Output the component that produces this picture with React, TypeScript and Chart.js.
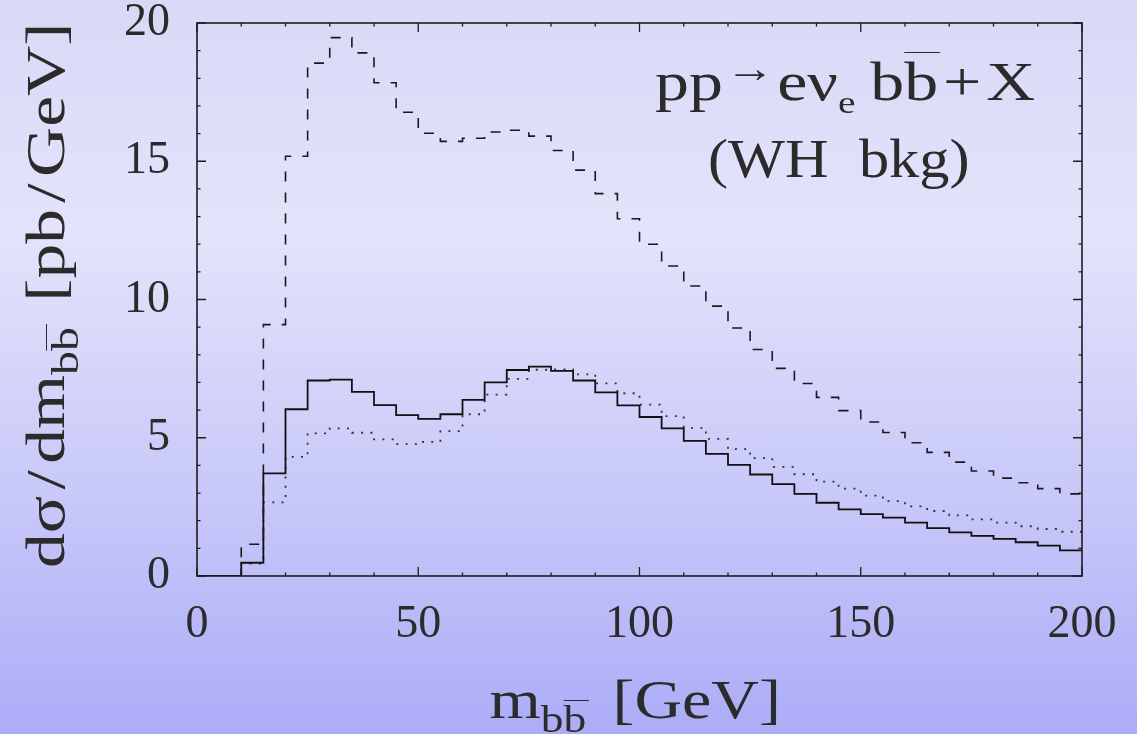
import React, { useEffect, useLayoutEffect, useRef, useState } from "react";
import { Chart, registerables } from "chart.js";

Chart.register(...registerables);

// ---- data ----
const binEdges = [
  0, 5, 10, 15, 20, 25, 30, 35, 40, 45, 50, 55, 60, 65, 70, 75, 80, 85, 90, 95, 100,
  105, 110, 115, 120, 125, 130, 135, 140, 145, 150, 155, 160, 165, 170, 175, 180, 185, 190, 195, 200,
];

const dashedSeries = [
  0, 0, 1.15, 9.09, 15.18, 18.55, 19.47, 18.92, 17.84, 16.77,
  16.01, 15.72, 15.83, 16.06, 16.12, 15.91, 15.39, 14.68, 13.83, 12.92,
  12.0, 11.21, 10.49, 9.76, 8.97, 8.19, 7.51, 6.96, 6.46, 5.98,
  5.57, 5.19, 4.82, 4.47, 4.12, 3.8, 3.54, 3.37, 3.16, 2.97,
];

const solidSeries = [
  0, 0, 0.48, 3.71, 6.03, 7.07, 7.1, 6.66, 6.18, 5.82,
  5.68, 5.85, 6.37, 7.0, 7.45, 7.57, 7.42, 7.07, 6.64, 6.17,
  5.75, 5.34, 4.89, 4.42, 4.02, 3.67, 3.32, 2.97, 2.65, 2.41,
  2.24, 2.11, 1.93, 1.73, 1.58, 1.45, 1.34, 1.22, 1.1, 0.93,
];

const dottedSeries = [
  0, 0, 0.45, 2.66, 4.31, 5.16, 5.34, 5.18, 4.94, 4.77,
  4.85, 5.24, 5.85, 6.56, 7.13, 7.46, 7.47, 7.29, 6.97, 6.61,
  6.2, 5.78, 5.36, 4.96, 4.59, 4.26, 3.95, 3.68, 3.41, 3.16,
  2.91, 2.71, 2.52, 2.35, 2.19, 2.05, 1.93, 1.8, 1.7, 1.6,
];

const xTickValues = [0, 50, 100, 150, 200];
const yTickValues = [0, 5, 10, 15, 20];
const xMinorTicks = [
  0, 10, 20, 30, 40, 50, 60, 70, 80, 90, 100, 110, 120, 130, 140, 150, 160, 170, 180, 190, 200,
];
const yMinorTicks = [
  0, 1, 2, 3, 4, 5, 6, 7, 8, 9, 10, 11, 12, 13, 14, 15, 16, 17, 18, 19, 20,
];

const FONT = "'Liberation Serif', 'Times New Roman', serif";
const TEXT_COLOR = "#2b2b2b";

function toSteps(values: number[]) {
  const pts = values.map((v, i) => ({ x: binEdges[i], y: v }));
  pts.push({ x: binEdges[values.length], y: values[values.length - 1] });
  return pts;
}

const frameTicksPlugin = {
  id: "frameTicks",
  afterDatasetsDraw(chart: any) {
    const { ctx, chartArea, scales } = chart;
    const { left, right, top, bottom } = chartArea;
    const xs = scales.x;
    const ys = scales.y;
    ctx.save();
    ctx.strokeStyle = "#1c1c1c";
    ctx.lineWidth = 1.3;
    ctx.beginPath();
    xMinorTicks.forEach((v) => {
      const px = xs.getPixelForValue(v);
      const len = xTickValues.includes(v) ? 9 : 3.5;
      ctx.moveTo(px, bottom);
      ctx.lineTo(px, bottom - len);
      ctx.moveTo(px, top);
      ctx.lineTo(px, top + len);
    });
    yMinorTicks.forEach((v) => {
      const py = ys.getPixelForValue(v);
      const len = yTickValues.includes(v) ? 9 : 3.5;
      ctx.moveTo(left, py);
      ctx.lineTo(left + len, py);
      ctx.moveTo(right, py);
      ctx.lineTo(right - len, py);
    });
    ctx.stroke();
    ctx.lineWidth = 1.6;
    ctx.strokeRect(left, top, right - left, bottom - top);
    ctx.restore();
  },
};

type FitProps = {
  x: number;
  y: number;
  target: number;
  size: number;
  rotate?: boolean;
  children: React.ReactNode;
};

function FitText({ x, y, target, size, rotate, children }: FitProps) {
  const ref = useRef<HTMLDivElement>(null);
  const [scale, setScale] = useState(1);
  useLayoutEffect(() => {
    const el = ref.current;
    if (!el) return;
    const w = el.offsetWidth;
    if (w > 0) setScale(target / w);
  }, [target]);
  const baseOff = 0.8375 * size;
  const common: React.CSSProperties = {
    position: "absolute",
    whiteSpace: "nowrap",
    fontFamily: FONT,
    fontSize: size,
    lineHeight: 1,
    color: TEXT_COLOR,
    transformOrigin: "0 0",
  };
  const style: React.CSSProperties = rotate
    ? {
        ...common,
        left: x - baseOff,
        top: y + target / 2,
        transform: `rotate(-90deg) scaleX(${scale})`,
      }
    : {
        ...common,
        left: x,
        top: y - baseOff,
        transform: `translateX(${-target / 2}px) scaleX(${scale})`,
      };
  return (
    <div ref={ref} style={style}>
      {children}
    </div>
  );
}

function Bar({ children, top }: { children: React.ReactNode; top: number }) {
  return (
    <span style={{ position: "relative", display: "inline-block" }}>
      {children}
      <span
        style={{
          position: "absolute",
          left: 0,
          right: -2,
          top,
          borderTop: `1.5px solid ${TEXT_COLOR}`,
        }}
      />
    </span>
  );
}

export default function App() {
  const canvasRef = useRef<HTMLCanvasElement>(null);

  useEffect(() => {
    const canvas = canvasRef.current;
    if (!canvas) return;
    const chart = new Chart(canvas, {
      type: "line",
      data: {
        datasets: [
          {
            label: "dashed",
            data: toSteps(dashedSeries),
            stepped: "before",
            borderColor: "#1a1a1a",
            borderWidth: 1.6,
            borderDash: [10, 11],
            pointRadius: 0,
            fill: false,
          },
          {
            label: "solid",
            data: toSteps(solidSeries),
            stepped: "before",
            borderColor: "#111",
            borderWidth: 1.8,
            pointRadius: 0,
            fill: false,
          },
          {
            label: "dotted",
            data: toSteps(dottedSeries),
            stepped: "before",
            borderColor: "#333",
            borderWidth: 1.8,
            borderDash: [2, 7.3],
            pointRadius: 0,
            fill: false,
          },
        ],
      },
      options: {
        responsive: false,
        animation: false,
        devicePixelRatio: 1,
        layout: { padding: { top: 23, right: 55, left: 0, bottom: 0 } },
        plugins: {
          legend: { display: false },
          tooltip: { enabled: false },
          title: { display: false },
        },
        scales: {
          x: {
            type: "linear",
            min: 0,
            max: 200,
            grid: { display: false },
            border: { display: false },
            afterBuildTicks: (s: any) => {
              s.ticks = xTickValues.map((v) => ({ value: v }));
            },
            afterFit: (s: any) => {
              s.height = 158;
              s.paddingLeft = 0;
              s.paddingRight = 0;
              s.paddingTop = 0;
              s.paddingBottom = 0;
            },
            ticks: {
              autoSkip: false,
              maxRotation: 0,
              padding: 18,
              color: TEXT_COLOR,
              font: { family: FONT, size: 46, lineHeight: 1 },
            },
          },
          y: {
            type: "linear",
            min: 0,
            max: 20,
            grid: { display: false },
            border: { display: false },
            afterBuildTicks: (s: any) => {
              s.ticks = yTickValues.map((v) => ({ value: v }));
            },
            afterFit: (s: any) => {
              s.width = 197;
              s.paddingLeft = 0;
              s.paddingRight = 0;
              s.paddingTop = 0;
              s.paddingBottom = 0;
            },
            ticks: {
              autoSkip: false,
              padding: 19,
              color: TEXT_COLOR,
              font: { family: FONT, size: 46, lineHeight: 1 },
            },
          },
        },
      },
      plugins: [frameTicksPlugin],
    } as any);
    return () => chart.destroy();
  }, []);

  return (
    <div
      style={{
        position: "fixed",
        left: 0,
        top: 0,
        width: 1137,
        height: 734,
        overflow: "hidden",
        background:
          "linear-gradient(to bottom, #d9d9f7 0%, #e3e3fb 32%, #c6c6f9 70%, #acacf8 100%)",
      }}
    >
      <canvas
        ref={canvasRef}
        width={1137}
        height={734}
        style={{ position: "absolute", left: 0, top: 0, width: 1137, height: 734 }}
      />
      {/* x-axis title */}
      <FitText x={634.5} y={718} target={291} size={55}>
        <span>m</span>
        <span style={{ fontSize: 38, verticalAlign: -14, marginRight: 22 }}>
          b<Bar top={0}>b</Bar>
        </span>
        <span>[GeV]</span>
      </FitText>
      {/* y-axis title */}
      <FitText x={64} y={295} target={546} size={55} rotate>
        <span>dσ</span>
        <span style={{ margin: "0 5px" }}>/</span>
        <span>dm</span>
        <span style={{ fontSize: 38, verticalAlign: -14, marginRight: 20 }}>
          b<Bar top={0}>b</Bar>
        </span>
        <span>[pb</span>
        <span style={{ margin: "0 5px" }}>/</span>
        <span>GeV]</span>
      </FitText>
      {/* annotation */}
      <FitText x={845} y={100} target={380} size={55}>
        <span>pp</span>
        <span
          style={{
            fontSize: 40,
            verticalAlign: 6,
            position: "relative",
            top: -12,
            margin: "0 2px",
          }}
        >
          →
        </span>
        <span>eν</span>
        <span style={{ fontSize: 32, verticalAlign: -13, marginRight: 12 }}>e</span>
        <span>b</span>
        <Bar top={-2}>b</Bar>
        <span style={{ margin: "0 4px" }}>+</span>
        <span>X</span>
      </FitText>
      <FitText x={839} y={177} target={262} size={55}>
        <span>(WH</span>
        <span style={{ marginLeft: 14 }}> bkg)</span>
      </FitText>
    </div>
  );
}
